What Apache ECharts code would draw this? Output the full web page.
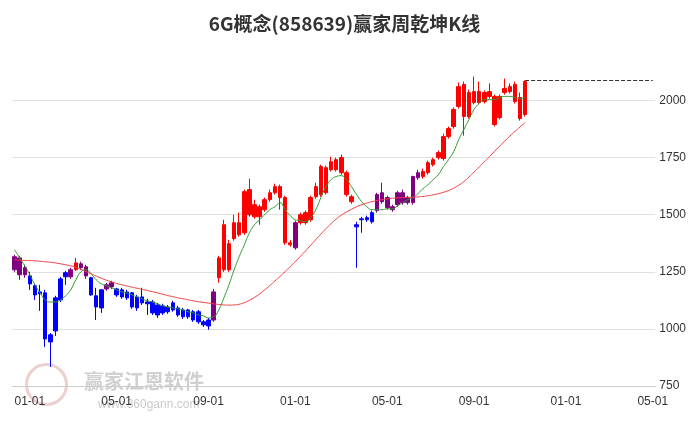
<!DOCTYPE html>
<html><head><meta charset="utf-8">
<script src="https://cdn.jsdelivr.net/npm/echarts@6/dist/echarts.min.js"></script>
<style>html,body{margin:0;padding:0;background:#fff}#c{width:689px;height:427px}</style>
</head><body><div id="c"></div>
<script>
// weekly candles: [open, close, low, high]
const candles = [
  [1316,1259,1250,1325],[1311,1237,1215,1320],[1268,1237,1224,1281],[1232,1197,1171,1250],
  [1189,1149,1127,1197],[1162,1154,1079,1193],[1158,956,921,1171],[974,943,833,982],
  [991,1136,969,1145],[1127,1219,1118,1228],[1228,1246,1193,1254],[1228,1259,1219,1268],
  [1259,1289,1254,1311],[1268,1285,1259,1294],[1272,1232,1219,1281],[1224,1149,1145,1228],
  [1145,1096,1039,1180],[1171,1092,1070,1175],[1175,1193,1167,1202],[1184,1202,1175,1211],
  [1175,1149,1140,1180],[1171,1140,1132,1180],[1162,1136,1127,1171],[1158,1096,1088,1162],
  [1140,1092,1079,1149],[1140,1114,1105,1180],[1118,1110,1061,1132],[1118,1070,1061,1127],
  [1105,1061,1048,1114],[1101,1070,1061,1110],[1096,1075,1066,1105],[1114,1083,1075,1123],
  [1092,1061,1053,1101],[1083,1053,1044,1092],[1083,1053,1044,1088],[1075,1039,1031,1083],
  [1075,1031,1022,1083],[1031,1018,1009,1039],[1039,1013,996,1048],[1039,1162,1031,1175],
  [1224,1311,1202,1320],[1259,1456,1250,1478],[1259,1373,1250,1390],[1395,1465,1386,1500],
  [1412,1465,1404,1509],[1421,1601,1412,1610],[1500,1610,1491,1658],[1491,1544,1482,1566],
  [1491,1535,1456,1544],[1522,1566,1513,1575],[1566,1596,1557,1610],[1596,1623,1588,1636],
  [1575,1623,1522,1632],[1575,1377,1368,1583],[1377,1368,1360,1390],[1355,1465,1347,1474],
  [1465,1500,1456,1509],[1465,1509,1456,1518],[1478,1575,1469,1583],[1579,1623,1570,1640],
  [1588,1711,1579,1719],[1596,1706,1588,1715],[1697,1732,1689,1754],[1697,1741,1689,1750],
  [1750,1684,1675,1763],[1684,1588,1579,1693],[1579,1557,1548,1588],[1456,1447,1268,1469],
  [1478,1482,1421,1491],[1478,1487,1469,1496],[1469,1509,1461,1518],[1518,1588,1509,1596],
  [1596,1557,1548,1640],[1575,1531,1522,1583],[1535,1522,1513,1544],[1544,1596,1535,1605],
  [1553,1596,1544,1610],[1575,1553,1544,1583],[1553,1667,1544,1671],[1662,1684,1653,1697],
  [1667,1689,1658,1702],[1684,1728,1675,1737],[1719,1741,1711,1750],[1750,1772,1741,1781],
  [1746,1842,1737,1855],[1842,1877,1833,1886],[1886,1961,1877,1969],[1974,2061,1965,2079],
  [2070,1930,1846,2083],[1930,2035,1921,2048],[1991,2039,1983,2105],[2039,1991,1983,2083],
  [1996,2035,1987,2044],[2018,2039,2009,2075],[2018,1895,1886,2026],[1925,2018,1917,2026],
  [2035,2053,2026,2096],[2039,2061,2031,2075],[2070,1996,1987,2083],[2013,1921,1912,2035],
  [1939,2083,1930,2088]
];
// colour class per candle: r red, b blue, p purple
const kinds = ("pppbbbbbbbbprppbbbppbbbbbbbbbbbbbbbbbbbp" + "rrrrrrrrrrrrrrrp" + "rrrrrrrrrrrbbbbppppppppp" + "rrrrrrrrrrrrrrrrrrrrrr").split("");
const maFast = [1347,1311,1276,1237,1193,1158,1127,1118,1118,1127,1145,1171,1215,1250,1259,1241,1215,1197,1189,1180,
  1171,1162,1158,1149,1140,1132,1123,1118,1110,1101,1096,1092,1088,1083,1075,1070,1061,1057,1048,1053,
  1083,1136,1193,1259,1316,1368,1421,1456,1478,1500,1522,1535,1553,1522,1496,1478,1474,1469,1487,1522,
  1575,1623,1654,1667,1671,1654,1623,1588,1557,1535,1522,1522,1522,1526,1526,1539,1553,1566,1575,1592,
  1614,1632,1654,1675,1711,1741,1776,1829,1873,1917,1961,1987,2004,2004,2004,2013,2018,2018,2013,2009,2013];
const maSlow = [1303,1301,1300,1299,1298,1296,1294,1292,1289,1285,1281,1276,1270,1261,1251,1241,1231,1222,1213,1206,
  1199,1193,1188,1183,1178,1173,1168,1163,1158,1152,1146,1141,1136,1132,1127,1123,1119,1116,1113,1110,
  1107,1105,1104,1105,1108,1115,1125,1138,1153,1171,1190,1210,1230,1251,1273,1295,1318,1342,1366,1391,
  1415,1439,1461,1481,1498,1512,1524,1535,1544,1551,1557,1562,1566,1569,1572,1574,1575,1576,1577,1578,
  1580,1583,1587,1592,1598,1606,1616,1629,1645,1665,1687,1709,1731,1754,1777,1800,1822,1844,1864,1884,1903];
const yTicks = { min: 750, max: 2230, interval: 250 };
const totalWeeks = 126;

const COLORS = { r: "#ff0000", b: "#0000ff", p: "#800080" };
const pad = (n) => String(n).padStart(2, "0");
const dates = [];
for (let i = 0, t = Date.UTC(2022, 11, 12); i < totalWeeks; i++, t += 7 * 864e5) {
  const d = new Date(t);
  dates.push(`${d.getUTCFullYear()}-${pad(d.getUTCMonth() + 1)}-${pad(d.getUTCDate())}`);
}
const isLabel = (i) => {
  const [, m, d] = dates[i].split("-").map(Number);
  return (m === 1 || m === 5 || m === 9) && d <= 7;
};
const kData = candles.map((c, i) => ({ value: c, itemStyle: { color: COLORS[kinds[i]], color0: COLORS[kinds[i]], borderColor: COLORS[kinds[i]], borderColor0: COLORS[kinds[i]] } }));
const last = candles.length - 1;

const chart = echarts.init(document.getElementById("c"), null, { renderer: "canvas" });
chart.setOption({
  animation: false,
  title: { text: "6G概念(858639)赢家周乾坤K线", left: "center", top: 9, textStyle: { fontSize: 19, fontWeight: "bold", color: "#333", fontFamily: "Noto Sans CJK SC" } },
  grid: { left: 12, right: 27, top: 48, bottom: 41 },
  xAxis: {
    type: "category", data: dates, boundaryGap: true,
    axisLine: { lineStyle: { color: "#ccc" } }, axisTick: { show: false },
    axisLabel: { interval: (i) => isLabel(i), formatter: (v) => v.slice(5, 7) + "-01", color: "#333", fontSize: 12, margin: 10 },
    splitLine: { show: false }
  },
  yAxis: {
    type: "value", position: "right", ...yTicks,
    axisLine: { show: false }, axisTick: { show: false },
    axisLabel: { color: "#333", fontSize: 12, margin: 4, showMaxLabel: false, formatter: (v) => String(v) },
    splitLine: { showMaxLine: false, lineStyle: { color: "#e0e0e0" } }
  },
  graphic: [
    { type: "circle", left: 24, top: 362, shape: { r: 20 }, style: { fill: "none", stroke: "rgba(200,120,120,0.35)", lineWidth: 3 } },
    { type: "text", left: 84, top: 371, style: { text: "赢家江恩软件", fill: "rgba(150,150,150,0.45)", font: "bold 20px 'Noto Sans CJK SC'" } },
    { type: "text", left: 98, top: 399, style: { text: "www.360gann.com", fill: "rgba(150,150,150,0.5)", font: "12px sans-serif" } }
  ],
  series: [
    { type: "candlestick", data: kData, barWidth: "78%",
      markLine: { symbol: "none", silent: true, label: { show: false },
        lineStyle: { type: "dashed", color: "#333", width: 1 },
        data: [[{ coord: [last, candles[last][3]] }, { coord: [totalWeeks - 1, candles[last][3]] }]] } },
    { type: "line", data: maFast, showSymbol: false, smooth: true, lineStyle: { color: "#2e9a2e", width: 1 } },
    { type: "line", data: maSlow, showSymbol: false, smooth: true, lineStyle: { color: "#f03c3c", width: 1 } }
  ]
});
</script></body></html>
